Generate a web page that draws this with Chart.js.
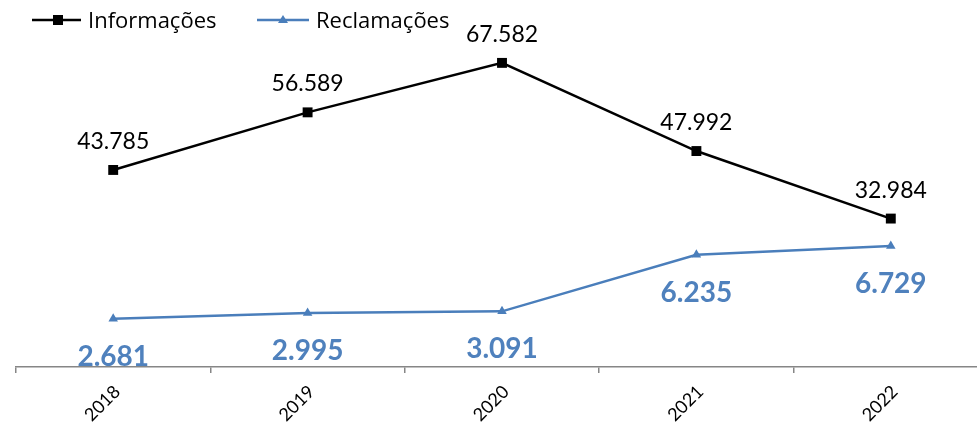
<!DOCTYPE html>
<html>
<head>
<meta charset="utf-8">
<script src="https://cdn.jsdelivr.net/npm/chart.js@4/dist/chart.umd.min.js"></script>
<style>
html,body{margin:0;padding:0;background:#fff;overflow:hidden;width:977px;height:424px;}
#wrap{position:absolute;left:0;top:0;width:995px;height:424px;}
</style>
</head>
<body>
<div id="wrap"><canvas id="c" width="995" height="424"></canvas></div>
<script>
const categories = ['2018', '2019', '2020', '2021', '2022'];
const informacoes = [43785, 56589, 67582, 47992, 32984];
const reclamacoes = [2681, 2995, 3091, 6235, 6729];
const seriesNames = ['Informações', 'Reclamações'];

const BLACK = '#000000';
const BLUE = '#4A7EBB';
const BLUE_LABEL = '#4F81BD';
const FONT = 'Lato';
const LEGEND_FONT = '"Open Sans"';

function fmt(v){
  return v.toLocaleString('pt-BR');
}

const labelPlugin = {
  id: 'labels',
  afterDatasetsDraw(chart){
    const ctx = chart.ctx;
    ctx.save();
    const m0 = chart.getDatasetMeta(0);
    ctx.font = '23px ' + FONT;
    ctx.fillStyle = BLACK;
    ctx.textAlign = 'center';
    ctx.textBaseline = 'alphabetic';
    m0.data.forEach((p, i) => {
      ctx.fillText(fmt(informacoes[i]), p.x, p.y - 21);
    });
    const m1 = chart.getDatasetMeta(1);
    ctx.font = 'bold 28px ' + FONT;
    ctx.fillStyle = BLUE_LABEL;
    m1.data.forEach((p, i) => {
      ctx.fillText(fmt(reclamacoes[i]), p.x, p.y + 47);
    });
    // Legend
    ctx.lineWidth = 2.5;
    ctx.strokeStyle = BLACK;
    ctx.beginPath(); ctx.moveTo(32, 20); ctx.lineTo(81, 20); ctx.stroke();
    ctx.fillStyle = BLACK;
    ctx.fillRect(53, 15, 10, 10);
    ctx.strokeStyle = BLUE;
    ctx.beginPath(); ctx.moveTo(257, 20); ctx.lineTo(309, 20); ctx.stroke();
    ctx.fillStyle = BLUE;
    ctx.beginPath(); ctx.moveTo(283, 15); ctx.lineTo(288, 23); ctx.lineTo(278, 23); ctx.closePath(); ctx.fill();
    ctx.fillStyle = BLACK;
    ctx.font = '22px ' + LEGEND_FONT;
    ctx.textAlign = 'left';
    ctx.textBaseline = 'alphabetic';
    ctx.fillText(seriesNames[0], 88, 28);
    ctx.fillText(seriesNames[1], 316, 28);
    ctx.restore();
  }
};

new Chart(document.getElementById('c'), {
  type: 'line',
  data: {
    labels: categories,
    datasets: [
      {
        label: seriesNames[0],
        data: informacoes,
        yAxisID: 'y',
        borderColor: BLACK,
        backgroundColor: BLACK,
        borderWidth: 2.5,
        pointStyle: 'rect',
        pointRadius: 7,
        pointBorderWidth: 0,
        tension: 0
      },
      {
        label: seriesNames[1],
        data: reclamacoes,
        yAxisID: 'y1',
        borderColor: BLUE,
        backgroundColor: BLUE,
        borderWidth: 2.5,
        pointStyle: 'triangle',
        pointRadius: 5.5,
        pointBorderWidth: 0,
        tension: 0
      }
    ]
  },
  options: {
    responsive: false,
    animation: false,
    layout: { padding: { left: 16, right: 1.5, top: 7, bottom: 0 } },
    plugins: { legend: { display: false }, tooltip: { enabled: false } },
    scales: {
      x: {
        offset: true,
        afterFit(scale){ scale.height = 57; scale.paddingLeft = 0; scale.paddingRight = 0; },
        border: { display: true, color: '#868686', width: 1.5 },
        grid: { display: true, offset: true, drawOnChartArea: false, drawTicks: true, tickLength: 6, color: '#868686', lineWidth: 1.5 },
        ticks: { color: '#000', font: { family: FONT, size: 18 }, minRotation: 45, maxRotation: 45, padding: 8, labelOffset: 4 }
      },
      y: { display: false, min: 0, max: 80000 },
      y1: { display: false, min: 0, max: 20000, position: 'right' }
    }
  },
  plugins: [labelPlugin]
});
</script>
</body>
</html>
